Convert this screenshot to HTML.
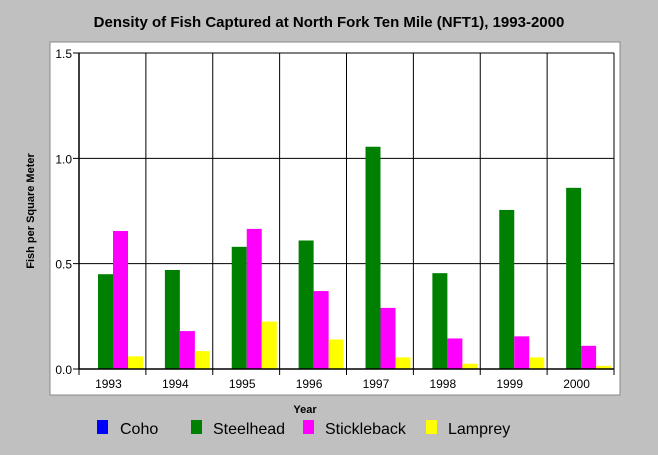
<!DOCTYPE html>
<html><head><meta charset="utf-8"><style>
body{margin:0;background:#c0c0c0;}
svg{display:block;font-family:"Liberation Sans",sans-serif;}
</style></head><body>
<svg width="658" height="455">
<rect x="0" y="0" width="658" height="455" fill="#c0c0c0"/>
<rect x="50" y="42" width="570" height="353" fill="#fff" stroke="#888" stroke-width="1"/>
<text x="329" y="27" text-anchor="middle" font-size="15" font-weight="bold">Density of Fish Captured at North Fork Ten Mile (NFT1), 1993-2000</text>
<text transform="translate(34,211) rotate(-90)" text-anchor="middle" font-size="11" font-weight="bold">Fish per Square Meter</text>
<text x="305" y="413" text-anchor="middle" font-size="11" font-weight="bold">Year</text>
<g id="grid"></g><g id="bars"></g><g id="axes"></g>
<g font-size="16">
<rect x="97" y="420" width="11" height="14" fill="#0000ff"/>
<text x="120" y="434">Coho</text>
<rect x="191" y="420" width="11" height="14" fill="#008000"/>
<text x="213" y="434">Steelhead</text>
<rect x="303" y="420" width="11" height="14" fill="#ff00ff"/>
<text x="325" y="434">Stickleback</text>
<rect x="426" y="420" width="11" height="14" fill="#ffff00"/>
<text x="448" y="434">Lamprey</text>
</g>
</svg>
<script>
const years=["1993","1994","1995","1996","1997","1998","1999","2000"];
const coho=[0,0,0,0,0,0,0,0];
const steelhead=[0.45,0.47,0.58,0.61,1.055,0.455,0.755,0.86];
const stickleback=[0.655,0.18,0.665,0.37,0.29,0.145,0.155,0.11];
const lamprey=[0.06,0.085,0.225,0.14,0.055,0.025,0.055,0.015];
const yTicks=[0,0.5,1.0,1.5];
const yTickLabels=["0.0","0.5","1.0","1.5"];
const NS="http://www.w3.org/2000/svg";
const L=79,R=614,T=53,B=369,YMAX=1.5;
const bw=(R-L)/years.length;
const y=v=>B-(v/YMAX)*(B-T);
const x=i=>L+i*bw;
function mk(tag,attrs,parent){const e=document.createElementNS(NS,tag);for(const k in attrs)e.setAttribute(k,attrs[k]);document.getElementById(parent).appendChild(e);return e;}
yTicks.forEach((t,i)=>{
  const g=mk("line",{x1:L-6,x2:R,y1:y(t),y2:y(t),stroke:"#000","stroke-width":1},"grid");
  
  
  const tx=mk("text",{x:L-7,y:y(t)+5,"text-anchor":"end","font-size":12},"axes");
  tx.textContent=yTickLabels[i];
  
  
});
for(let i=0;i<=years.length;i++){
  const g=mk("line",{x1:x(i),x2:x(i),y1:T,y2:B+6,stroke:"#000","stroke-width":1},"grid");
  
  
}
const series=[[coho,"#0000ff","coho"],[steelhead,"#008000","steelhead"],[stickleback,"#ff00ff","stickleback"],[lamprey,"#ffff00","lamprey"]];
years.forEach((yr,i)=>{
  series.forEach((s,j)=>{
    const v=s[0][i];
    if(v<=0)return;
    const r=mk("rect",{x:x(i)+4+j*15,y:y(v),width:15,height:B-y(v),fill:s[1]},"bars");
    
    
  });
  const tx=mk("text",{x:x(i)+bw/2-4,y:388,"text-anchor":"middle","font-size":12},"axes");
  tx.textContent=yr;
  
  
});
const ax=mk("line",{x1:L,x2:L,y1:T,y2:B,stroke:"#000","stroke-width":1.5},"axes");


const bx=mk("line",{x1:L,x2:R,y1:B,y2:B,stroke:"#000","stroke-width":1.5},"axes");


</script>
</body></html>
